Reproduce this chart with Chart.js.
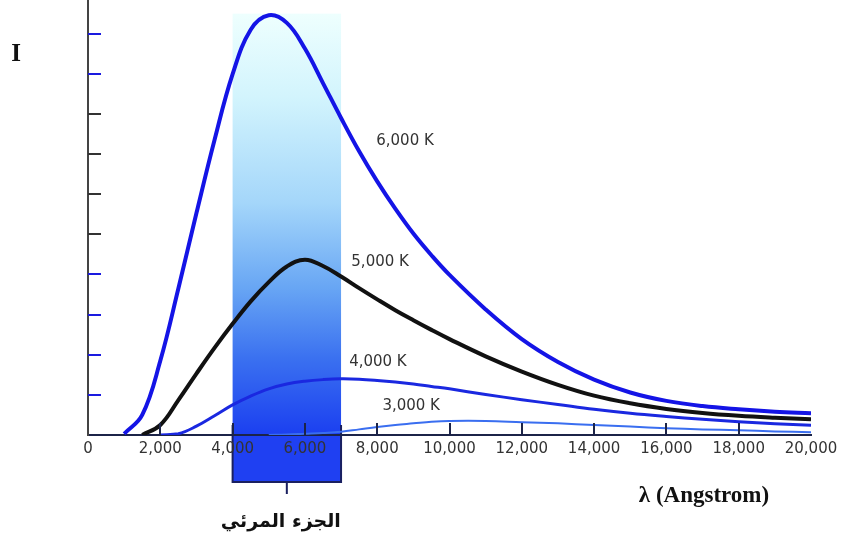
<!DOCTYPE html>
<html>
<head>
<meta charset="utf-8">
<script src="https://cdn.jsdelivr.net/npm/chart.js@4.4.1/dist/chart.umd.min.js"></script>
<style>
  body { margin: 0; background: #fff; }
  #wrap { width: 847px; height: 545px; }
</style>
</head>
<body>
<div id="wrap"><canvas id="planckChart" width="847" height="545"></canvas></div>
<script>
// wavelength samples (Angstrom) shared by all curves
var wavelengths = [0, 500, 1000, 1500, 2000, 2500, 3000, 3500, 4000, 4500, 5000, 5500, 6000, 6500, 7000, 7500, 8000,
                   8500, 9000, 9500, 10000, 11000, 12000, 13000, 14000, 15000, 16000, 17000, 18000, 19000, 20000];

// intensity, one array per temperature
var curve6000 = [null, null, 0.03, 0.50, 1.85, 3.65, 5.53, 7.35, 8.99, 10.10, 10.46, 10.27, 9.63, 8.77, 7.90, 7.07, 6.32,
                 5.64, 5.02, 4.48, 3.99, 3.13, 2.39, 1.82, 1.38, 1.06, 0.85, 0.72, 0.64, 0.58, 0.54];
var curve5000 = [null, null, null, 0, 0.25, 0.87, 1.53, 2.17, 2.77, 3.33, 3.81, 4.20, 4.37, 4.21, 3.95, 3.66, 3.38,
                 3.11, 2.86, 2.62, 2.39, 1.96, 1.58, 1.25, 0.98, 0.79, 0.65, 0.55, 0.48, 0.43, 0.39];
var curve4000 = [null, null, null, null, 0, 0.03, 0.22, 0.48, 0.75, 0.97, 1.15, 1.27, 1.34, 1.38, 1.40, 1.39, 1.36,
                 1.32, 1.27, 1.21, 1.15, 1.01, 0.88, 0.76, 0.64, 0.54, 0.46, 0.39, 0.33, 0.28, 0.24];
var curve3000 = [null, null, null, null, null, null, null, null, null, null, 0, 0.01, 0.03, 0.05, 0.08, 0.14, 0.20,
                 0.25, 0.29, 0.33, 0.35, 0.35, 0.32, 0.29, 0.25, 0.21, 0.17, 0.14, 0.12, 0.09, 0.07];

var curveNames = ['6,000 K', '5,000 K', '4,000 K', '3,000 K'];
var curveLabelX = [8770, 8080, 8020, 8940];
var curveLabelY = [7.33, 4.31, 1.82, 0.71];

var visibleRange = [4000, 7000];
var visibleLabel = 'الجزء المرئي';
var xTitle = 'λ (Angstrom)';
var yTitle = 'I';
var yMarks = [1, 2, 3, 4, 5, 6, 7, 8, 9, 10];
var yMarkColors = ['#1a1ae0', '#1a1ae0', '#1a1ae0', '#1a1ae0', '#333', '#333', '#333', '#333', '#1a1ae0', '#1a1ae0'];

function pts(arr) {
  return wavelengths.map(function (w, i) { return { x: w, y: arr[i] }; });
}

var bandPlugin = {
  id: 'band',
  beforeDraw: function (chart) {
    var ctx = chart.ctx, xs = chart.scales.x, ys = chart.scales.y;
    var x1 = xs.getPixelForValue(visibleRange[0]), x2 = xs.getPixelForValue(visibleRange[1]);
    var top = ys.getPixelForValue(10.5), base = ys.getPixelForValue(0);
    ctx.save();
    var g = ctx.createLinearGradient(0, top, 0, base);
    g.addColorStop(0, '#eefffe');
    g.addColorStop(0.2, '#d2f4fd');
    g.addColorStop(0.45, '#a4d6fa');
    g.addColorStop(0.65, '#68a6f4');
    g.addColorStop(0.82, '#3a70f0');
    g.addColorStop(1, '#1b3ff0');
    ctx.fillStyle = g;
    ctx.fillRect(x1, top, x2 - x1, base - top);
    ctx.fillStyle = '#1f40f2';
    ctx.fillRect(x1, base, x2 - x1, 47);
    ctx.strokeStyle = '#1a2060';
    ctx.lineWidth = 2;
    ctx.beginPath();
    ctx.moveTo(x1, base - 10); ctx.lineTo(x1, base + 47); ctx.lineTo(x2, base + 47); ctx.lineTo(x2, base - 10);
    var mid = (x1 + x2) / 2;
    ctx.moveTo(mid, base + 47); ctx.lineTo(mid, base + 59);
    ctx.stroke();
    ctx.restore();
  },
  afterDraw: function (chart) {
    var ctx = chart.ctx, xs = chart.scales.x, ys = chart.scales.y;
    var base = ys.getPixelForValue(0), left = xs.getPixelForValue(0);
    ctx.save();
    // inner tick marks on x axis
    ctx.strokeStyle = '#1c2448';
    ctx.lineWidth = 2;
    for (var v = 2000; v < 20000; v += 2000) {
      var px = Math.round(xs.getPixelForValue(v));
      ctx.beginPath(); ctx.moveTo(px, base); ctx.lineTo(px, base - 12); ctx.stroke();
    }
    // tick marks on y axis
    yMarks.forEach(function (m, i) {
      var py = Math.round(ys.getPixelForValue(m));
      ctx.strokeStyle = yMarkColors[i];
      ctx.beginPath(); ctx.moveTo(left, py); ctx.lineTo(left + 13, py); ctx.stroke();
    });
    // curve labels
    ctx.fillStyle = '#333';
    ctx.font = '15px "DejaVu Sans"';
    ctx.textAlign = 'center';
    ctx.textBaseline = 'middle';
    curveNames.forEach(function (n, i) {
      ctx.fillText(n, xs.getPixelForValue(curveLabelX[i]), ys.getPixelForValue(curveLabelY[i]));
    });
    // titles
    ctx.fillStyle = '#111';
    ctx.font = 'bold 25px "Liberation Serif"';
    ctx.fillText(yTitle, 16, 55);
    ctx.font = 'bold 23px "Liberation Serif"';
    ctx.fillText(xTitle, 704, 496);
    ctx.font = 'bold 19px "DejaVu Sans"';
    var mid = (xs.getPixelForValue(visibleRange[0]) + xs.getPixelForValue(visibleRange[1])) / 2;
    ctx.fillText(visibleLabel, mid - 6, 522);
    ctx.restore();
  }
};

var planckChart = new Chart(document.getElementById('planckChart'), {
  type: 'line',
  data: {
    datasets: [
      { label: curveNames[3], data: pts(curve3000), borderColor: '#3a6ef0', borderWidth: 2 },
      { label: curveNames[2], data: pts(curve4000), borderColor: '#1a28e0', borderWidth: 3 },
      { label: curveNames[1], data: pts(curve5000), borderColor: '#111111', borderWidth: 4 },
      { label: curveNames[0], data: pts(curve6000), borderColor: '#1414e6', borderWidth: 4 }
    ]
  },
  options: {
    responsive: false,
    animation: false,
    layout: { padding: { left: 88, right: 36, top: 0, bottom: 82 } },
    elements: {
      point: { radius: 0 },
      line: { tension: 0.4, fill: false, capBezierPoints: true }
    },
    plugins: { legend: { display: false }, tooltip: { enabled: false } },
    scales: {
      x: {
        type: 'linear', min: 0, max: 20000,
        grid: { display: false, drawTicks: false, tickLength: 0 },
        border: { display: true, color: '#1c2448', width: 2 },
        ticks: {
          stepSize: 2000, padding: 5, color: '#333', maxRotation: 0,
          font: { family: 'DejaVu Sans', size: 15 },
          callback: function (v) { return v.toLocaleString('en-US'); }
        }
      },
      y: {
        min: 0, max: 10.84,
        grid: { display: false, drawTicks: false, tickLength: 0 },
        border: { display: true, color: '#444', width: 2 },
        ticks: { display: false }
      }
    }
  },
  plugins: [bandPlugin]
});
</script>
</body>
</html>
